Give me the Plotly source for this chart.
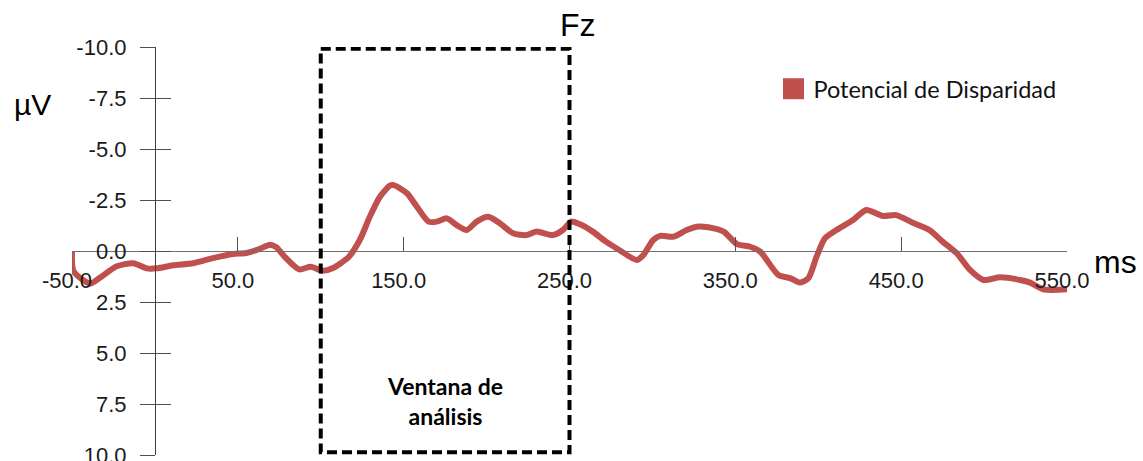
import plotly.graph_objects as go

# ---- data ----
time_ms = [-50, -49, -39, -33, -23, -13, -5, 1, 11, 23, 35, 47, 55, 63, 69, 73, 79, 87, 94, 101,
           107, 117, 123.6, 129.7, 135.7, 141.7, 144, 152, 158, 165, 170, 176, 182, 188, 194, 201,
           208, 216, 224, 230, 240, 246, 251, 256, 264, 272, 280, 290.5, 294.5, 300.5, 304.6, 312.6,
           320.7, 328, 337, 343, 351, 359, 365, 376, 383, 389, 394, 399, 404, 411, 421, 429, 439,
           447, 457, 467, 475, 483.5, 491.5, 499.6, 509.7, 521.7, 527.7, 535.8, 550]
amplitude_uv = [0.0, 1.0, 1.6, 1.3, 0.75, 0.6, 0.85, 0.85, 0.7, 0.6, 0.35, 0.15, 0.1, -0.1, -0.3, -0.2,
                0.35, 0.9, 0.77, 0.97, 0.85, 0.28, -0.55, -1.7, -2.66, -3.2, -3.23, -2.83, -2.17,
                -1.44, -1.44, -1.6, -1.27, -1.03, -1.44, -1.68, -1.36, -0.87, -0.78, -0.95, -0.78,
                -1.03, -1.44, -1.32, -0.95, -0.46, -0.05, 0.44, 0.2, -0.54, -0.74, -0.7, -1.03, -1.2,
                -1.11, -0.95, -0.34, -0.21, 0.03, 1.18, 1.33, 1.55, 1.34, 0.28, -0.62, -1.03, -1.52,
                -2.01, -1.72, -1.76, -1.39, -1.03, -0.46, 0.11, 0.93, 1.42, 1.29, 1.42, 1.55, 1.88, 1.88]
x_ticks = [-50, 50, 150, 250, 350, 450, 550]
x_ticktext = ["-50.0", "50.0", "150.0", "250.0", "350.0", "450.0", "550.0"]
y_ticks = [-10, -7.5, -5, -2.5, 0, 2.5, 5, 7.5, 10]
y_ticktext = ["-10.0", "-7.5", "-5.0", "-2.5", "0.0", "2.5", "5.0", "7.5", "10.0"]
series_name = "Potencial de Disparidad"
window_ms = [100, 250]
window_label = "Ventana de<br>análisis"
title_text = "Fz"
y_unit = "µV"
x_unit = "ms"

RED = "#C0504D"
AXIS_FONT = dict(family="Liberation Sans, Arial", size=22, color="#1a1a1a")

fig = go.Figure()

fig.add_trace(go.Scatter(
    x=time_ms, y=amplitude_uv, mode="lines",
    line=dict(color=RED, width=6, shape="spline", smoothing=0.7),
    showlegend=False, cliponaxis=False, hoverinfo="skip",
))

# legend entry (square swatch) on the overlay axis
fig.add_trace(go.Scatter(
    x=[None], y=[None], mode="markers", name=series_name, yaxis="y2",
    marker=dict(symbol="square", size=16, color=RED, line=dict(color=RED, width=5)),
))

fig.add_shape(type="rect", xref="x", yref="y",
              x0=window_ms[0], x1=window_ms[1], y0=-9.92, y1=9.87,
              line=dict(color="black", width=4, dash="10px,5px"))

fig.add_annotation(x=(window_ms[0] + window_ms[1]) / 2, y=7.35, xref="x", yref="y",
                   text="<b>" + window_label + "</b>", showarrow=False,
                   xanchor="center", yanchor="middle",
                   font=dict(family="Lato", size=23, color="black"))
fig.add_annotation(x=0.5085, y=1.0527, xref="paper", yref="paper", text=title_text,
                   showarrow=False, xanchor="center", yanchor="middle",
                   font=dict(family="Liberation Sans, Arial", size=32, color="black"))
fig.add_annotation(x=-0.0402, y=0.858, xref="paper", yref="paper", text=y_unit,
                   showarrow=False, xanchor="center", yanchor="middle",
                   font=dict(family="Liberation Sans, Arial", size=30, color="black"))
fig.add_annotation(x=1.049, y=0.473, xref="paper", yref="paper", text=x_unit,
                   showarrow=False, xanchor="center", yanchor="middle",
                   font=dict(family="Liberation Sans, Arial", size=32, color="black"))

y_pos = (0 - (-50)) / (550 - (-50))

fig.update_layout(
    width=1143, height=461,
    margin=dict(l=72, r=76, t=47, b=6, autoexpand=False),
    paper_bgcolor="white", plot_bgcolor="white",
    xaxis=dict(range=[-50, 550], tickvals=x_ticks, ticktext=x_ticktext, automargin=False,
               anchor="free", position=0.5, showline=True, linecolor="#707070", linewidth=1,
               ticks="inside", ticklen=14, tickcolor="#505050", tickwidth=1,
               showgrid=False, zeroline=False, tickfont=AXIS_FONT,
               ticklabelstandoff=10, ticklabelshift=-5, ticklabeloverflow="allow"),
    yaxis=dict(range=[10, -10], tickvals=y_ticks, ticktext=y_ticktext, automargin=False,
               anchor="free", position=y_pos, showline=True, linecolor="#404040", linewidth=1,
               ticks="outside", ticklen=15, tickcolor="#505050", tickwidth=1,
               showgrid=False, zeroline=False, tickfont=AXIS_FONT, ticklabelstandoff=9,
               ticklabeloverflow="allow"),
    yaxis2=dict(range=[10, -10], tickvals=y_ticks, overlaying="y", automargin=False,
                anchor="free", position=y_pos, showline=False,
                ticks="inside", ticklen=15, tickcolor="#505050", tickwidth=1,
                showticklabels=False, showgrid=False, zeroline=False),
    legend=dict(x=0.705, y=0.897, xanchor="left", yanchor="middle",
                font=dict(family="Lato", size=23.5, color="#111111"),
                bgcolor="rgba(0,0,0,0)"),
)

fig.write_html("out.html", config={"displayModeBar": False},
               post_script="document.body.style.margin='0px';")
